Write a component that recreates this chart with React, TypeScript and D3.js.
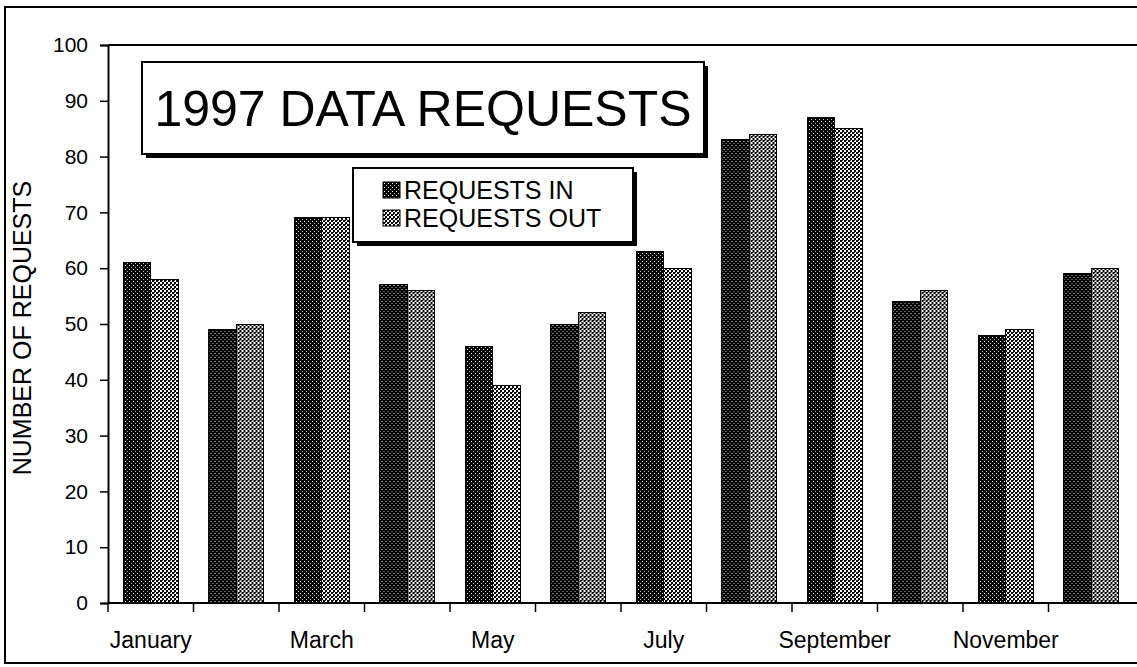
import React, { useEffect, useRef } from 'react';
import * as d3 from 'd3';

const months = ['January', 'February', 'March', 'April', 'May', 'June', 'July', 'August', 'September', 'October', 'November', 'December'];
const requestsIn = [61, 49, 69, 57, 46, 50, 63, 83, 87, 54, 48, 59];
const requestsOut = [58, 50, 69, 56, 39, 52, 60, 84, 85, 56, 49, 60];
const seriesNames = ['REQUESTS IN', 'REQUESTS OUT'];
const yTicks = [0, 10, 20, 30, 40, 50, 60, 70, 80, 90, 100];
const shownMonths = ['January', 'March', 'May', 'July', 'September', 'November'];

export default function App() {
    const svgRef = useRef<SVGSVGElement | null>(null);

    useEffect(() => {
        if (!svgRef.current) return;
        const svg = d3.select(svgRef.current);
        svg.selectAll('*').remove();

        const width = 1137;
        const height = 667;
        const margin = { top: 45, right: 3, bottom: 64, left: 108 };
        const font = 'Arial, "Liberation Sans", sans-serif';

        // Patterns (scanned halftone look)
        const defs = svg.append('defs');
        const pIn = defs.append('pattern').attr('id', 'pin')
            .attr('patternUnits', 'userSpaceOnUse').attr('width', 4).attr('height', 4);
        pIn.append('rect').attr('width', 4).attr('height', 4).attr('fill', '#000');
        pIn.append('rect').attr('x', 1).attr('y', 1).attr('width', 1).attr('height', 1).attr('fill', '#fff');
        pIn.append('rect').attr('x', 3).attr('y', 3).attr('width', 1).attr('height', 1).attr('fill', '#bbb');

        const pOut = defs.append('pattern').attr('id', 'pout')
            .attr('patternUnits', 'userSpaceOnUse').attr('width', 4).attr('height', 4);
        pOut.append('rect').attr('width', 4).attr('height', 4).attr('fill', '#fff');
        pOut.append('rect').attr('x', 0).attr('y', 0).attr('width', 2).attr('height', 2).attr('fill', '#000');
        pOut.append('rect').attr('x', 2).attr('y', 2).attr('width', 2).attr('height', 2).attr('fill', '#000');
        pOut.append('rect').attr('x', 2).attr('y', 0).attr('width', 1).attr('height', 1).attr('fill', '#333');

        const fills = ['url(#pin)', 'url(#pout)'];

        // Outer frame
        svg.append('rect')
            .attr('x', 5).attr('y', 7).attr('width', width + 10).attr('height', 656)
            .attr('fill', '#fff').attr('stroke', '#000').attr('stroke-width', 2);

        // Scales
        const x0 = d3.scaleBand<string>()
            .domain(months)
            .range([margin.left, width - margin.right]);

        const gap = x0.bandwidth() * 0.18;
        const x1 = d3.scaleBand<string>()
            .domain(seriesNames)
            .range([gap, x0.bandwidth() - gap]);

        const y = d3.scaleLinear()
            .domain([0, 100])
            .range([height - margin.bottom, margin.top]);

        // Plot top border
        svg.append('line')
            .attr('x1', margin.left).attr('x2', width + 5)
            .attr('y1', y(100)).attr('y2', y(100))
            .attr('stroke', '#000').attr('stroke-width', 2);

        // Bars
        const data = months.map((m, i) => ({ month: m, values: [requestsIn[i], requestsOut[i]] }));
        svg.append('g')
            .selectAll('g')
            .data(data)
            .join('g')
            .attr('transform', d => `translate(${x0(d.month)},0)`)
            .selectAll('rect')
            .data(d => d.values.map((v, k) => ({ key: seriesNames[k], v, k })))
            .join('rect')
            .attr('x', d => x1(d.key)!)
            .attr('y', d => y(d.v))
            .attr('width', x1.bandwidth())
            .attr('height', d => y(0) - y(d.v))
            .attr('fill', d => fills[d.k])
            .attr('stroke', '#000')
            .attr('stroke-width', 1)
            .attr('shape-rendering', 'crispEdges');

        // Y axis
        const yAxis = svg.append('g')
            .attr('transform', `translate(${margin.left},0)`)
            .call(d3.axisLeft(y).tickValues(yTicks).tickSize(8).tickPadding(12));
        yAxis.select('.domain').attr('stroke', '#000').attr('stroke-width', 2);
        yAxis.selectAll('line').attr('stroke', '#000').attr('stroke-width', 1.5);
        yAxis.selectAll('text')
            .attr('font-family', font)
            .attr('font-size', 21)
            .attr('fill', '#000');

        // X axis: ticks at band boundaries
        const xAxis = svg.append('g')
            .attr('transform', `translate(0,${y(0)})`);
        xAxis.append('line')
            .attr('x1', margin.left).attr('x2', width)
            .attr('stroke', '#000').attr('stroke-width', 2);
        xAxis.selectAll('.tick')
            .data(months)
            .join('line')
            .attr('class', 'tick')
            .attr('x1', d => x0(d)!).attr('x2', d => x0(d)!)
            .attr('y1', 0).attr('y2', 9)
            .attr('stroke', '#000').attr('stroke-width', 1.5);
        xAxis.selectAll('.lbl')
            .data(shownMonths)
            .join('text')
            .attr('class', 'lbl')
            .attr('x', d => x0(d)! + x0.bandwidth() / 2)
            .attr('y', 45)
            .attr('text-anchor', 'middle')
            .attr('font-family', font)
            .attr('font-size', 23)
            .attr('fill', '#000')
            .text(d => d);

        // Y axis title
        svg.append('text')
            .attr('transform', `translate(31,${(y(0) + y(100)) / 2 + 4}) rotate(-90)`)
            .attr('text-anchor', 'middle')
            .attr('font-family', font)
            .attr('font-size', 25)
            .attr('fill', '#000')
            .text('NUMBER OF REQUESTS');

        // Title box
        const tb = { x: 142, y: 62, w: 562, h: 92 };
        svg.append('rect').attr('x', tb.x + 4).attr('y', tb.y + 4).attr('width', tb.w).attr('height', tb.h).attr('fill', '#000');
        svg.append('rect').attr('x', tb.x).attr('y', tb.y).attr('width', tb.w).attr('height', tb.h)
            .attr('fill', '#fff').attr('stroke', '#000').attr('stroke-width', 2);
        svg.append('text')
            .attr('x', tb.x + tb.w / 2).attr('y', tb.y + 64)
            .attr('text-anchor', 'middle')
            .attr('font-family', font)
            .attr('font-size', 50)
            .attr('fill', '#000')
            .text('1997 DATA REQUESTS');

        // Legend box
        const lb = { x: 353, y: 168, w: 280, h: 74 };
        svg.append('rect').attr('x', lb.x + 4).attr('y', lb.y + 4).attr('width', lb.w).attr('height', lb.h).attr('fill', '#000');
        svg.append('rect').attr('x', lb.x).attr('y', lb.y).attr('width', lb.w).attr('height', lb.h)
            .attr('fill', '#fff').attr('stroke', '#000').attr('stroke-width', 2);
        const leg = svg.append('g')
            .selectAll('g')
            .data(seriesNames)
            .join('g')
            .attr('transform', (d, i) => `translate(${lb.x + 30},${lb.y + 14 + i * 28})`);
        leg.append('rect')
            .attr('width', 17).attr('height', 16)
            .attr('fill', (d, i) => fills[i])
            .attr('stroke', '#000');
        leg.append('text')
            .attr('x', 21).attr('y', 17)
            .attr('font-family', font)
            .attr('font-size', 25)
            .attr('fill', '#000')
            .text(d => d);
    }, []);

    return (
        <svg
            ref={svgRef}
            width={1137}
            height={667}
            viewBox="0 0 1137 667"
            style={{ position: 'absolute', left: 0, top: 0, background: '#fff' }}
        />
    );
}
